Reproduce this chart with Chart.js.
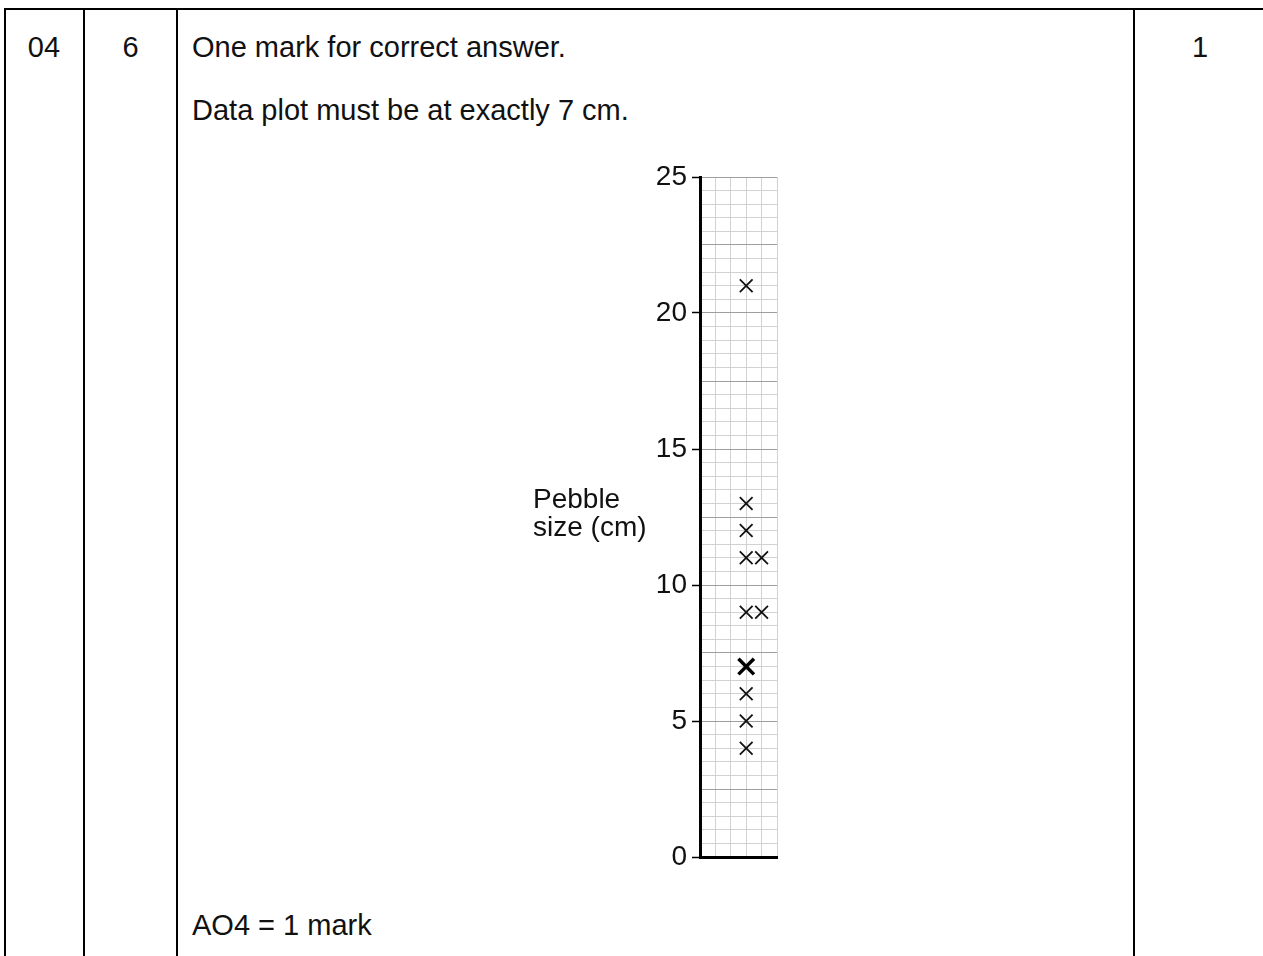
<!DOCTYPE html>
<html>
<head>
<meta charset="utf-8">
<script src="https://cdn.jsdelivr.net/npm/chart.js@4"></script>
<style>
    html, body { margin: 0; padding: 0; background: #fff; }
    body { width: 1263px; height: 956px; position: relative; overflow: hidden;
           font-family: "Liberation Sans", Arial, sans-serif; color: #111; }
    .rule-v { position: absolute; top: 8px; width: 2px; height: 960px; background: #000; }
    .rule-h { position: absolute; top: 8px; left: 4px; width: 1270px; height: 2px; background: #000; }
    .txt { position: absolute; font-size: 29px; line-height: 32px; white-space: nowrap; }
    .centre { text-align: center; }
    #chart-box { position: absolute; left: 500px; top: 150px; width: 300px; height: 730px; }
</style>
</head>
<body>
<div class="rule-h"></div>
<div class="rule-v" style="left:4px"></div>
<div class="rule-v" style="left:83px"></div>
<div class="rule-v" style="left:176px"></div>
<div class="rule-v" style="left:1133px"></div>

<div class="txt centre" style="left:5px; width:78px; top:31px">04</div>
<div class="txt centre" style="left:85px; width:91px; top:31px">6</div>
<div class="txt centre" style="left:1135px; width:130px; top:31px">1</div>
<div class="txt" style="left:192px; top:31px">One mark for correct answer.</div>
<div class="txt" style="left:192px; top:94px">Data plot must be at exactly 7 cm.</div>
<div class="txt" style="left:192px; top:909px">AO4 = 1 mark</div>

<div id="chart-box"><canvas id="pebbleChart"></canvas></div>

<script>
// Plotted pebble sizes (cm) and their column on the strip
const pebbleCols = [3, 3, 3, 3, 4, 3, 4, 3, 3, 3];
const pebbleSizes = [21, 13, 12, 11, 11, 9, 9, 6, 5, 4];

// The answer plot (drawn bold)
const answerCols = [3];
const answerSizes = [7];

const yLabels = [0, 5, 10, 15, 20, 25];
const axisTitle = ['Pebble', 'size (cm)'];

const FONT = '"Liberation Sans", Arial, sans-serif';

function toPoints(xs, ys) {
    return ys.map((y, i) => ({ x: xs[i], y: y }));
}

/**
 * Horizontal axis title to the left of the strip
 */
const sideTitle = {
    id: 'sideTitle',
    afterDraw(chart) {
        const ctx = chart.ctx;
        const area = chart.chartArea;
        ctx.save();
        ctx.font = '28px ' + FONT;
        ctx.fillStyle = '#111';
        ctx.textAlign = 'left';
        ctx.textBaseline = 'alphabetic';
        ctx.fillText(axisTitle[0], area.left - 167, 358);
        ctx.fillText(axisTitle[1], area.left - 167, 386);
        ctx.restore();
    }
};

const ctx = document.getElementById('pebbleChart').getContext('2d');

new Chart(ctx, {
    type: 'scatter',
    data: {
        datasets: [
            {
                label: 'Pebbles',
                data: toPoints(pebbleCols, pebbleSizes),
                pointStyle: 'crossRot',
                pointRadius: 9,
                pointBorderWidth: 1.8,
                borderColor: '#111',
                backgroundColor: '#111'
            },
            {
                label: 'Answer',
                data: toPoints(answerCols, answerSizes),
                pointStyle: 'crossRot',
                pointRadius: 11,
                pointBorderWidth: 3.5,
                borderColor: '#000',
                backgroundColor: '#000'
            }
        ]
    },
    options: {
        responsive: true,
        maintainAspectRatio: false,
        animation: false,
        layout: { padding: { top: 27, right: 23, bottom: 23, left: 0 } },
        plugins: {
            legend: { display: false },
            tooltip: { enabled: false }
        },
        scales: {
            x: {
                type: 'linear',
                min: 0,
                max: 5,
                ticks: { display: false, stepSize: 1 },
                grid: { color: '#d2d2d2', lineWidth: 1, drawTicks: false },
                border: { color: '#000', width: 3 },
                afterFit(scale) { scale.height = 0; }
            },
            y: {
                min: 0,
                max: 25,
                ticks: {
                    stepSize: 0.5,
                    autoSkip: false,
                    padding: 5,
                    color: '#111',
                    font: { family: FONT, size: 28 },
                    callback: function(value) {
                        return yLabels.includes(value) ? String(value) : '';
                    }
                },
                grid: {
                    lineWidth: 1,
                    tickLength: 8,
                    tickWidth: 1.5,
                    color: c => (c.tick && c.tick.value % 2.5 === 0) ? '#9e9e9e' : '#d2d2d2',
                    tickColor: c => (c.tick && yLabels.includes(c.tick.value)) ? '#000' : 'rgba(0,0,0,0)'
                },
                border: { color: '#000', width: 3 },
                afterFit(scale) { scale.width = 200; }
            }
        }
    },
    plugins: [sideTitle]
});
</script>
</body>
</html>
